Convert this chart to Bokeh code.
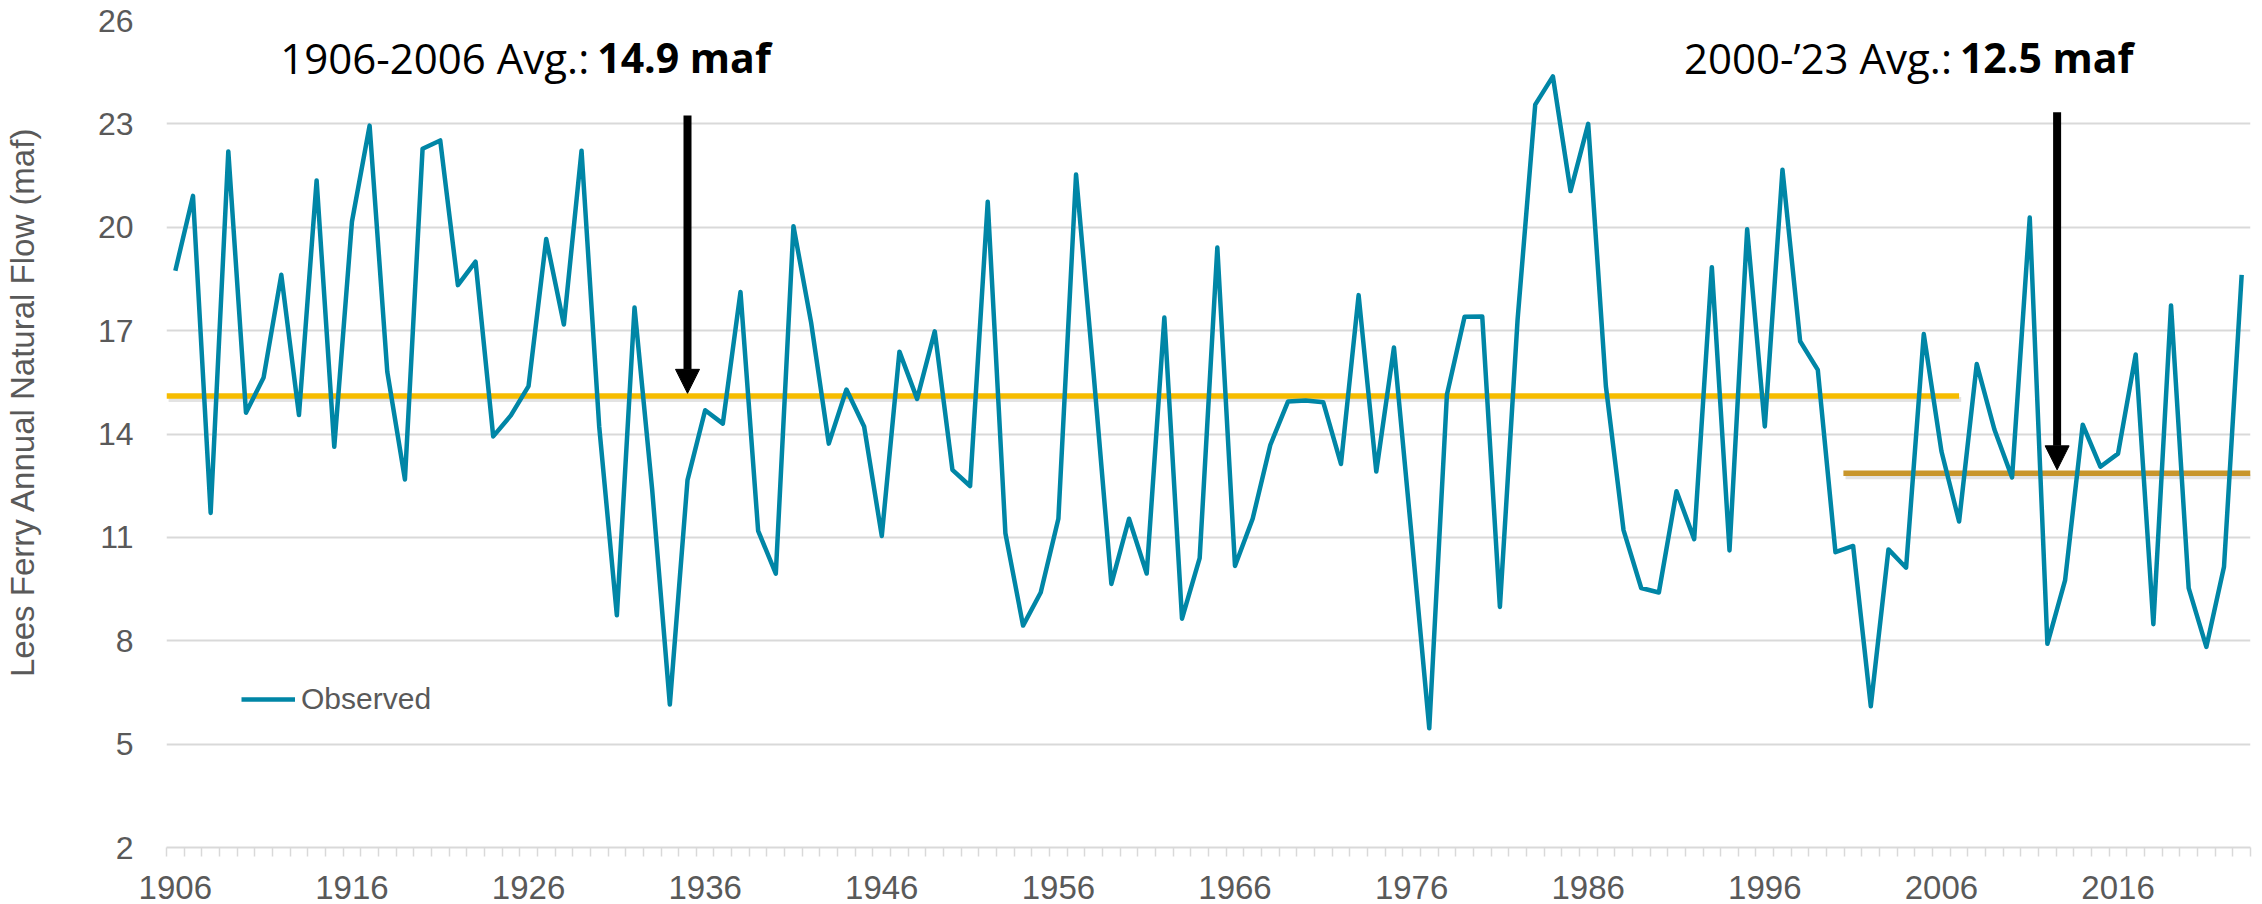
from bokeh.plotting import figure
from bokeh.models import (Range1d, FixedTicker, Label, Arrow, NormalHead, Legend, LegendItem)
from bokeh.embed import file_html
from bokeh.resources import INLINE

# ---------------- data ----------------
years = list(range(1906, 2024))
flows = [
    18.74, 20.91, 11.71, 22.20, 14.62, 15.64, 18.62, 14.55, 21.36, 13.63,   # 1906-1915
    20.16, 22.95, 15.81, 12.68, 22.28, 22.52, 18.32, 19.00, 13.93, 14.54,   # 1916-1925
    15.39, 19.66, 17.18, 22.22, 14.22, 8.74, 17.67, 12.38, 6.15, 12.66,     # 1926-1935
    14.69, 14.30, 18.12, 11.19, 9.95, 20.03, 17.23, 13.72, 15.29, 14.22,    # 1936-1945
    11.04, 16.39, 15.02, 16.98, 12.96, 12.49, 20.74, 11.12, 8.44, 9.40,     # 1946-1955
    11.54, 21.53, 15.72, 9.65, 11.54, 9.95, 17.38, 8.64, 10.40, 19.41,      # 1956-1965
    10.17, 11.54, 13.68, 14.94, 14.97, 14.92, 13.13, 18.03, 12.91, 16.51,   # 1966-1975
    11.04, 5.46, 15.14, 17.40, 17.41, 8.98, 17.31, 23.56, 24.38, 21.05,     # 1976-1985
    23.00, 15.39, 11.21, 9.53, 9.40, 12.34, 10.95, 18.84, 10.62, 19.94,     # 1986-1995
    14.22, 21.67, 16.69, 15.86, 10.57, 10.75, 6.10, 10.65, 10.12, 16.90,    # 1996-2005
    13.50, 11.46, 16.03, 14.13, 12.74, 20.28, 7.91, 9.75, 14.27, 13.05,     # 2006-2015
    13.43, 16.31, 8.48, 17.73, 9.53, 7.82, 10.15, 18.62,                    # 2016-2023
]
series_name = "Observed"

avg_long_value = 15.10          # drawn level of the 1906-2006 average line
avg_long_span = [1905.5, 2007.0]
avg_recent_value = 12.86        # drawn level of the 2000-'23 average line
avg_recent_span = [2000.45, 2023.5]

y_ticks = [2, 5, 8, 11, 14, 17, 20, 23, 26]
x_label_ticks = list(range(1906, 2024, 10))

note_long = ("1906-2006 Avg.:", "14.9 maf")
note_recent = ("2000-\u201923 Avg.:", "12.5 maf")

y_title = "Lees Ferry Annual Natural Flow (maf)"

# ---------------- styling ----------------
TEAL = "#0086A6"
GOLD1 = "#F6BC00"
GOLD2 = "#C8962C"
GRID = "#D9D9D9"
TXT = "#595959"

p = figure(width=2262, height=904, output_backend="svg", toolbar_location=None,
           x_range=Range1d(1905.5, 2023.5), y_range=Range1d(2, 26),
           min_border_left=154, min_border_right=12, min_border_top=20,
           min_border_bottom=57)
p.outline_line_color = None
p.background_fill_color = "white"
p.border_fill_color = "white"

# grid
p.xgrid.grid_line_color = None
p.ygrid.grid_line_color = GRID
p.ygrid.grid_line_width = 2
p.ygrid.ticker = FixedTicker(ticks=y_ticks)

# y axis
p.yaxis.ticker = FixedTicker(ticks=y_ticks)
p.yaxis.axis_line_color = None
p.yaxis.major_tick_line_color = None
p.yaxis.minor_tick_line_color = None
p.yaxis.major_label_standoff = 27
p.yaxis.major_label_text_font = "Liberation Sans"
p.yaxis.major_label_text_font_size = "32px"
p.yaxis.major_label_text_color = TXT
p.yaxis.axis_label = "\u00a0" * 7 + y_title
p.yaxis.axis_label_standoff = 54
p.yaxis.axis_label_text_font = "Liberation Sans"
p.yaxis.axis_label_text_font_size = "33px"
p.yaxis.axis_label_text_font_style = "normal"
p.yaxis.axis_label_text_color = TXT

# x axis
p.xaxis.ticker = FixedTicker(ticks=x_label_ticks,
                             minor_ticks=[y - 0.5 for y in range(1906, 2025)])
p.xaxis.axis_line_color = GRID
p.xaxis.axis_line_width = 2
p.xaxis.major_tick_line_color = None
p.xaxis.major_tick_out = 0
p.xaxis.major_tick_in = 0
p.xaxis.minor_tick_line_color = GRID
p.xaxis.minor_tick_line_width = 1.5
p.xaxis.minor_tick_out = 9
p.xaxis.minor_tick_in = 0
p.xaxis.major_label_standoff = 19
p.xaxis.major_label_text_font = "Liberation Sans"
p.xaxis.major_label_text_font_size = "33px"
p.xaxis.major_label_text_color = TXT

# average lines with soft shadow
for val, span, col in [(avg_long_value, avg_long_span, GOLD1),
                       (avg_recent_value, avg_recent_span, GOLD2)]:
    p.line([span[0] + 0.12, span[1] + 0.12], [val - 0.1, val - 0.1],
           line_color="#7F7F7F", line_alpha=0.22, line_width=5)
    p.line(span, [val, val], line_color=col, line_width=5.5)

# observed series
r_obs = p.line(years, flows, line_color=TEAL, line_width=4.5, line_join="round")

legend = Legend(items=[LegendItem(label=series_name, renderers=[r_obs])],
                location=(75, 130), glyph_width=54, glyph_height=36,
                label_height=36, label_standoff=6, padding=0, margin=0,
                border_line_color=None, background_fill_alpha=0,
                label_text_font="Liberation Sans", label_text_font_size="30px",
                label_text_color=TXT)
p.add_layout(legend)

# arrows
for ax, ytop, ytip in [(1935.0, 23.24, 15.18), (2012.55, 23.34, 12.96)]:
    p.add_layout(Arrow(end=NormalHead(size=24, fill_color="black", line_color="black",
                                      line_width=1),
                       x_start=ax, y_start=ytop, x_end=ax, y_end=ytip,
                       line_color="black", line_width=8))

# notes
for (reg, bold), xj in [(note_long, 1929.66), (note_recent, 2006.82)]:
    p.add_layout(Label(x=xj, y=24.93, x_offset=-4, text=reg, text_align="right",
                       text_baseline="alphabetic", text_font="Open Sans",
                       text_font_size="42px", text_color="black"))
    p.add_layout(Label(x=xj, y=24.93, x_offset=4, text=bold, text_align="left",
                       text_baseline="alphabetic", text_font="Open Sans",
                       text_font_style="bold", text_font_size="41px",
                       text_color="black"))

open("out.html", "w").write(file_html(p, INLINE))
